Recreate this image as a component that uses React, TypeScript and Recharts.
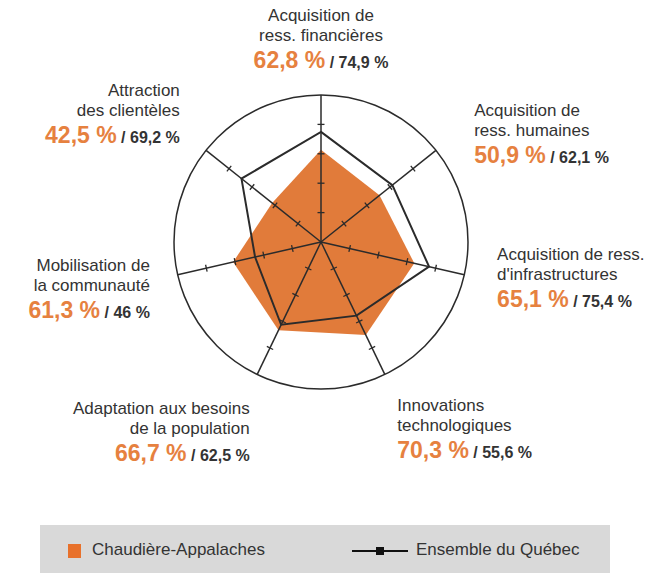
import React from "react";
import { RadarChart, Radar, PolarAngleAxis, PolarRadiusAxis } from "recharts";

const CATEGORY_LINES: string[][] = [
  ["Acquisition de", "ress. financières"],
  ["Acquisition de", "ress. humaines"],
  ["Acquisition de ress.", "d'infrastructures"],
  ["Innovations", "technologiques"],
  ["Adaptation aux besoins", "de la population"],
  ["Mobilisation de", "la communauté"],
  ["Attraction", "des clientèles"],
];
const CATEGORIES = CATEGORY_LINES.map((l) => l.join(" "));
const CHAUDIERE = [62.8, 50.9, 65.1, 70.3, 66.7, 61.3, 42.5];
const QUEBEC = [74.9, 62.1, 75.4, 55.6, 62.5, 46, 69.2];
const RADIAL_TICKS = [20, 40, 60, 80];
const SERIES_NAMES = ["Chaudière-Appalaches", "Ensemble du Québec"];

const data = CATEGORIES.map((name, i) => ({
  name,
  chaudiere: CHAUDIERE[i],
  quebec: QUEBEC[i],
}));

// label layout (styling only)
const LABEL_LAYOUT = [
  { anchor: "middle", dx: 0, dy: -66 },
  { anchor: "start", dx: 32, dy: -29 },
  { anchor: "start", dx: 25, dy: -16 },
  { anchor: "start", dx: 9, dy: 29 },
  { anchor: "end", dx: -4, dy: 32 },
  { anchor: "end", dx: -20, dy: -5 },
  { anchor: "end", dx: -20, dy: -49 },
];

const ORANGE = "#e17b3a";
const ORANGE_TEXT = "#e6813f";
const DARK = "#2b2b2b";
const TEXT = "#333333";
const FONT = "'Liberation Sans', Arial, Helvetica, sans-serif";

const fmt = (v: number) => String(v).replace(".", ",");

const AngleLabel = (props: any) => {
  const { x, y, index } = props;
  const lay = LABEL_LAYOUT[index];
  const lines = CATEGORY_LINES[index];
  const bx = x + lay.dx;
  const by = y + lay.dy;
  return (
    <g style={{ fontFamily: FONT }}>
      {lines.map((ln, k) => (
        <text key={k} x={bx} y={by + k * 20} textAnchor={lay.anchor} fontSize={17} fill={TEXT}>
          {ln}
        </text>
      ))}
      <text x={bx} y={by + (lines.length - 1) * 20 + 27} textAnchor={lay.anchor}>
        <tspan fontSize={23} fill={ORANGE_TEXT} fontWeight="bold">
          {fmt(CHAUDIERE[index])} %
        </tspan>
        <tspan fontSize={16} fill={TEXT} fontWeight="bold">
          {" / " + fmt(QUEBEC[index]) + " %"}
        </tspan>
      </text>
    </g>
  );
};

const makeTick = (angleDeg: number) => (props: any) => {
  const { x, y, payload } = props;
  if (!RADIAL_TICKS.includes(payload.value)) return <g />;
  const a = (angleDeg * Math.PI) / 180;
  const px = Math.sin(a);
  const py = Math.cos(a);
  const h = 3.5;
  return (
    <line
      x1={x - px * h}
      y1={y - py * h}
      x2={x + px * h}
      y2={y + py * h}
      stroke={DARK}
      strokeWidth={1.3}
    />
  );
};

const N = CATEGORIES.length;
const axisAngles = CATEGORIES.map((_, i) => 90 - (i * 360) / N);

export default function App() {
  return (
    <div
      style={{
        position: "relative",
        width: 656,
        height: 573,
        margin: "-8px 0 0 -8px",
        background: "#ffffff",
        fontFamily: FONT,
      }}
    >
      <RadarChart
        width={656}
        height={573}
        data={data}
        cx={321}
        cy={242}
        outerRadius={147}
        margin={{ top: 0, right: 0, bottom: 0, left: 0 }}
      >
        <PolarAngleAxis
          dataKey="name"
          axisLineType="circle"
          axisLine={{ stroke: DARK, strokeWidth: 1.5 }}
          tickLine={false}
          tick={<AngleLabel />}
        />
        <Radar
          name={SERIES_NAMES[0]}
          dataKey="chaudiere"
          fill={ORANGE}
          fillOpacity={1}
          stroke="none"
          isAnimationActive={false}
        />
        {axisAngles.slice(1).map((_, j) => (
          <Radar
            key={"dummy" + j}
            radiusAxisId={j + 1}
            dataKey="chaudiere"
            fill="none"
            fillOpacity={0}
            stroke="none"
            dot={false}
            legendType="none"
            isAnimationActive={false}
          />
        ))}
        {axisAngles.map((ang, i) => (
          <PolarRadiusAxis
            key={i}
            radiusAxisId={i}
            angle={ang}
            type="number"
            domain={[0, 100]}
            tickCount={6}
            axisLine={{ stroke: DARK, strokeWidth: 1.5 }}
            tick={makeTick(ang)}
          />
        ))}
        <Radar
          name={SERIES_NAMES[1]}
          dataKey="quebec"
          fill="none"
          fillOpacity={0}
          stroke={DARK}
          strokeWidth={2}
          dot={false}
          isAnimationActive={false}
        />
      </RadarChart>
      <div
        style={{
          position: "absolute",
          left: 40,
          top: 525,
          width: 570,
          height: 48,
          background: "#d9d9d9",
        }}
      >
        <div
          style={{
            position: "absolute",
            left: 28,
            top: 19,
            width: 13,
            height: 14,
            background: "#e8712b",
          }}
        />
        <div
          style={{
            position: "absolute",
            left: 52,
            top: 15,
            fontSize: 17,
            color: TEXT,
            lineHeight: "20px",
          }}
        >
          {SERIES_NAMES[0]}
        </div>
        <svg
          style={{ position: "absolute", left: 312, top: 20 }}
          width={58}
          height={12}
        >
          <line x1={0} y1={6} x2={56} y2={6} stroke="#111" strokeWidth={2} />
          <rect x={24} y={2} width={8} height={8} fill="#111" />
        </svg>
        <div
          style={{
            position: "absolute",
            left: 376,
            top: 15,
            fontSize: 17,
            color: TEXT,
            lineHeight: "20px",
          }}
        >
          {SERIES_NAMES[1]}
        </div>
      </div>
    </div>
  );
}
